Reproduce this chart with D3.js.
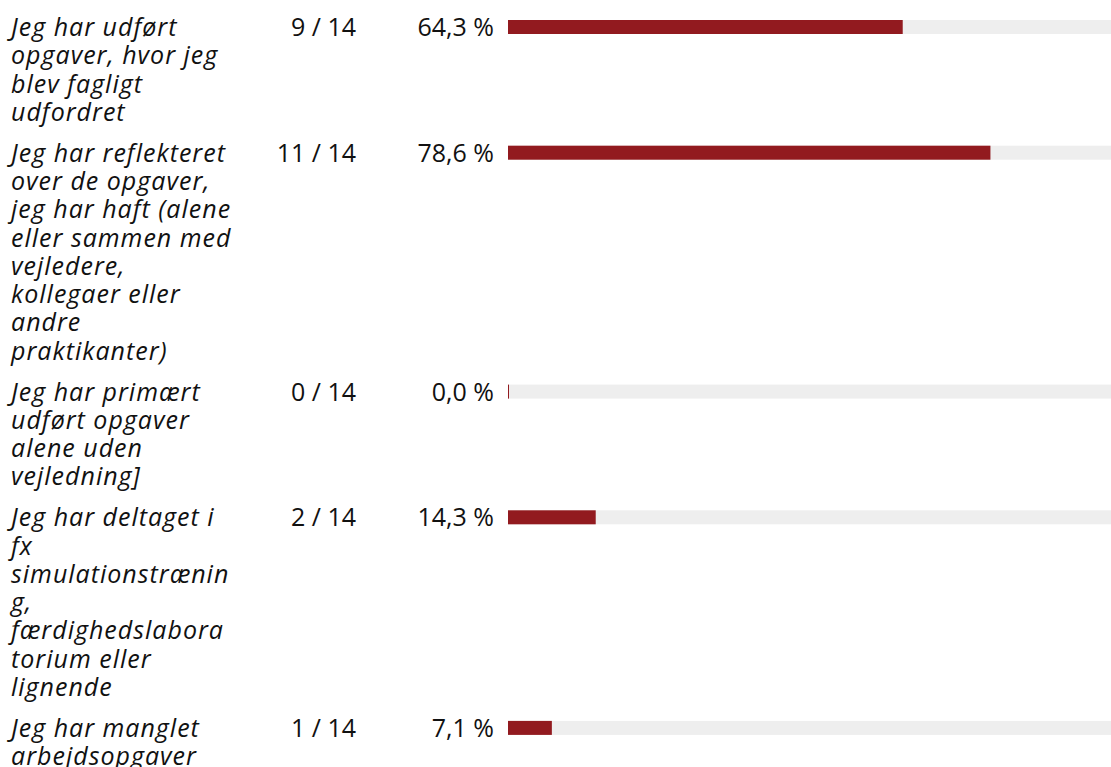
<!DOCTYPE html>
<html>
<head>
<meta charset="utf-8">
<script src="https://cdn.jsdelivr.net/npm/d3@7"></script>
<style>
  html, body { margin: 0; padding: 0; background: #fff; overflow: hidden; }
  svg { display: block; }
  .label { font-family: "Open Sans", "Noto Sans", sans-serif; font-style: italic; font-size: 25px; fill: #111; letter-spacing: 1px; }
  .num { font-family: "Open Sans", "Noto Sans", sans-serif; font-size: 25px; fill: #111; }
</style>
</head>
<body>
<div id="chart"></div>
<script>
// svar-tekster, brudt som i originalen
const labels = [
  ["Jeg har udført", "opgaver, hvor jeg", "blev fagligt", "udfordret"],
  ["Jeg har reflekteret", "over de opgaver,", "jeg har haft (alene", "eller sammen med", "vejledere,", "kollegaer eller", "andre", "praktikanter)"],
  ["Jeg har primært", "udført opgaver", "alene uden", "vejledning]"],
  ["Jeg har deltaget i", "fx", "simulationstrænin", "g,", "færdighedslabora", "torium eller", "lignende"],
  ["Jeg har manglet", "arbejdsopgaver"]
]
const counts = [9, 11, 0, 2, 1]
const total = 14

const width = 1111
const height = 767
let lineH = 28.3
let rowGap = 12.5
let base0 = 36

// baseline for hver rækkes første linje
let rowY = []
let y = base0
labels.forEach(function(l){
  rowY.push(y)
  y += l.length * lineH + rowGap
})

const svg = d3.select('#chart')
  .append('svg')
  .attr('width', width)
  .attr('height', height)

let barX = d3.scaleLinear().domain([0, 1]).range([508, 508 + 614])

const fmt = function(v){ return d3.format('.1f')(v * 100).replace('.', ',') + ' %' }

let rows = svg.selectAll('.row')
  .data(counts)
  .enter().append('g')
  .attr('class', 'row')
  .attr('transform', function(d, i){ return `translate(0,${rowY[i]})` })

rows.each(function(d, i){
  let g = d3.select(this)
  let share = d / total

  g.append('text')
    .attr('class', 'label')
    .selectAll('tspan')
    .data(labels[i])
    .enter().append('tspan')
    .attr('x', 11)
    .attr('y', function(t, j){ return j * lineH })
    .text(function(t){ return t })

  g.append('text')
    .attr('class', 'num')
    .attr('x', 356)
    .attr('y', 0)
    .attr('text-anchor', 'end')
    .text(d + ' / ' + total)

  g.append('text')
    .attr('class', 'num')
    .attr('x', 494)
    .attr('y', 0)
    .attr('text-anchor', 'end')
    .text(fmt(share))

  g.append('rect')
    .attr('x', barX(0))
    .attr('y', -16)
    .attr('width', barX(1) - barX(0))
    .attr('height', 14)
    .attr('fill', '#eeeeee')

  g.append('rect')
    .attr('x', barX(0))
    .attr('y', -16)
    .attr('width', Math.max(barX(share) - barX(0), 1))
    .attr('height', 14)
    .attr('fill', '#921a1f')
})
</script>
</body>
</html>
